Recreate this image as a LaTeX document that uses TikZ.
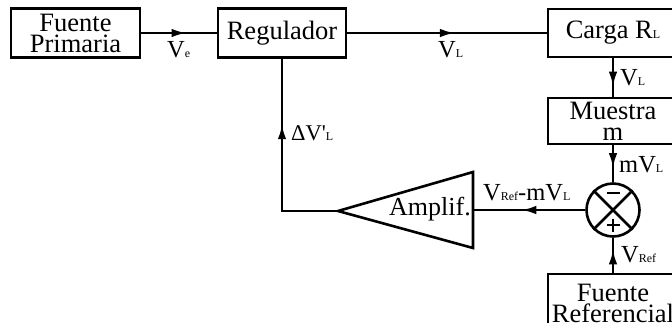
\documentclass[tikz,border=0pt]{standalone}
\usepackage{fontspec}
\setmainfont{Liberation Serif}[Ligatures=TeXOff]
\usetikzlibrary{arrows.meta,decorations.markings}
\newcommand{\sbx}[1]{{\fontsize{12}{12}\selectfont #1}}
\tikzset{
  blk/.style={draw,line width=2.6pt,rectangle,inner sep=0pt,align=center,
    font=\fontsize{26.5}{21}\selectfont},
  lbl/.style={inner sep=0pt,anchor=base west,font=\fontsize{24.5}{24.5}\selectfont},
  conn/.style={line width=2.6pt},
  midarrow/.style={conn,postaction={decorate},decoration={markings,
    mark=at position #1 with {\arrow{Latex[length=15pt,width=8.5pt]}}}}
}
\begin{document}
\begin{tikzpicture}[x=1pt,y=-1pt]
\useasboundingbox (0,0) rectangle (672,322);
% boxes
\node[blk,minimum width=129pt,minimum height=49pt] (fp) at (75.5,33) {Fuente\\Primaria};
\node[blk,minimum width=128pt,minimum height=49pt] (reg) at (282,33) {Regulador};
\node[blk,minimum width=130pt,minimum height=48pt] (carga) at (613,33) {Carga R\sbx{L}};
\node[blk,minimum width=130pt,minimum height=46pt] (mu) at (613,121) {Muestra\\m};
\node[blk,minimum width=130pt,minimum height=58pt] (fr) at (613,303) {Fuente\\Referencial};
% summing junction
\node[draw,circle,line width=2.6pt,minimum size=53pt,inner sep=0pt] (sum) at (613,210) {};
\draw[conn] (sum.45) -- (sum.225) (sum.135) -- (sum.-45);
\draw[conn] (606.5,193) -- (619.5,193);
\draw[conn] (606.5,225) -- (619.5,225) (613,218.5) -- (613,231.5);
% amplifier
\coordinate (ampL) at (338,211);
\coordinate (ampR) at (473,210);
\draw[line width=2.6pt,line join=miter] (473,172) -- (473,248) -- (ampL) -- cycle;
\node[inner sep=0pt,anchor=base east,font=\fontsize{26}{26}\selectfont] (amptxt) at (471,215) {Amplif.};
\coordinate (c1) at (282,211);
% connectors
\draw[midarrow=0.60] (fp.east) -- (reg.west);
\draw[midarrow=0.54] (reg.east) -- (carga.west);
\draw[midarrow=0.74] (carga.south) -- (mu.north);
\draw[midarrow=0.62] (mu.south) -- (sum.north);
\draw[midarrow=0.67] (fr.north) -- (sum.south);
\draw[midarrow=0.57] (sum.west) -- (ampR);
\draw[conn,line join=miter] (ampL) -- (c1);
\draw[midarrow=0.57,line cap=rect] (c1) -- (reg.south);
% labels
\node[lbl] (l1) at (167,57) {V\sbx{e}};
\node[lbl] (l2) at (438,57) {V\sbx{L}};
\node[lbl] (l3) at (620,85) {V\sbx{L}};
\node[lbl] (l4) at (619,172) {mV\sbx{L}};
\node[lbl] (l5) at (483,200) {V\sbx{Ref}-mV\sbx{L}};
\node[lbl] (l6) at (621,262) {V\sbx{Ref}};
\node[lbl,font=\fontsize{22.5}{22.5}\selectfont] (l7) at (291,140) {ΔV'\sbx{L}};
\end{tikzpicture}
\end{document}
